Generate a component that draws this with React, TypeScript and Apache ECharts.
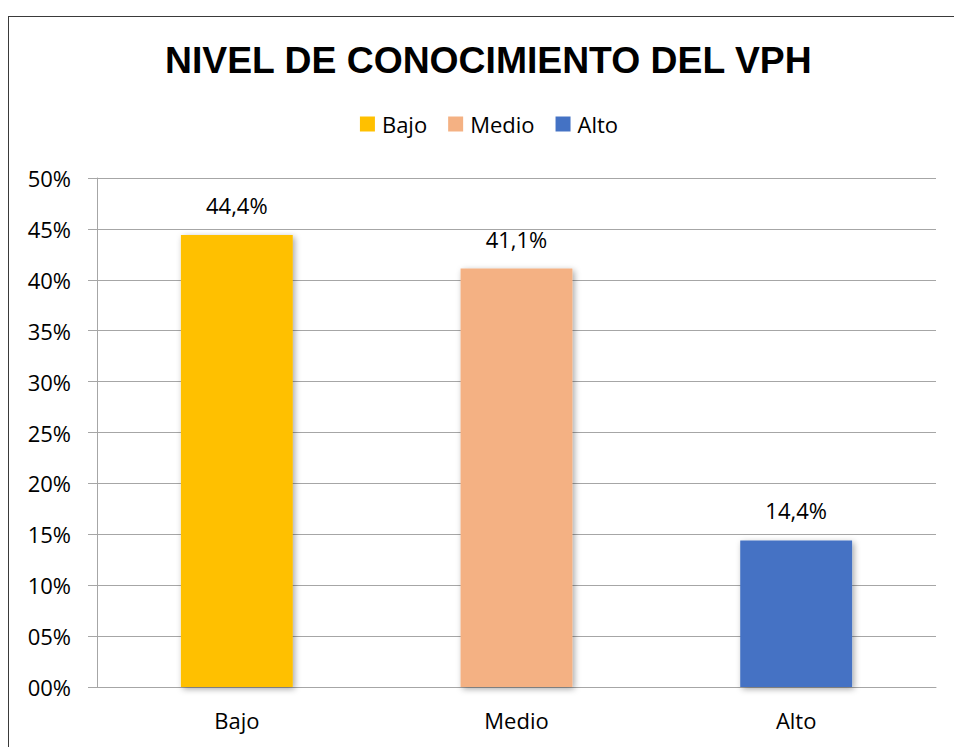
import React, { useEffect, useRef } from "react";
import * as echarts from "echarts";

const categories = ["Bajo", "Medio", "Alto"];
const values = [44.4, 41.1, 14.4];
const yTicks = { min: 0, max: 50, interval: 5 };
const titleText = "NIVEL DE CONOCIMIENTO DEL VPH";

const colors = ["#FFC000", "#F4B183", "#4472C4"];
const FONT = "'Open Sans', 'Noto Sans', sans-serif";

export default function App() {
  const ref = useRef<HTMLDivElement>(null);

  useEffect(() => {
    if (!ref.current) return;
    const chart = echarts.init(ref.current, undefined, { renderer: "svg" });
    const series = categories.map((name, i) => ({
      name,
      type: "bar",
      barWidth: "40%",
      barGap: "-100%",
      data: categories.map((_, j) => (j === i ? values[i] : "-")),
      itemStyle: {
        color: colors[i],
        shadowBlur: 6,
        shadowColor: "rgba(0,0,0,0.35)",
        shadowOffsetX: 2,
        shadowOffsetY: 2,
      },
      label: {
        show: true,
        position: "top",
        distance: 19,
        fontFamily: FONT,
        fontSize: 22,
        color: "#000",
        formatter: (p: any) => p.value.toFixed(1).replace(".", ",") + "%",
      },
    }));
    chart.setOption({
      animation: false,
      backgroundColor: "#fff",
      title: {
        text: titleText,
        left: 151,
        top: 19,
        textStyle: {
          fontFamily: "'Liberation Sans', Arial, sans-serif",
          fontWeight: "bold",
          fontSize: 37.3,
          color: "#000",
        },
      },
      legend: {
        data: categories,
        top: 91,
        left: "center",
        itemWidth: 15,
        itemHeight: 15,
        itemGap: 21,
        icon: "rect",
        textStyle: { fontFamily: FONT, fontSize: 22, color: "#000", padding: [0, 0, 0, 2] },
      },
      grid: { left: 88, right: 33, top: 161, bottom: 90, containLabel: false },
      xAxis: {
        type: "category",
        data: categories,
        axisLine: { lineStyle: { color: "#a6a6a6", width: 1 } },
        axisTick: { show: false },
        axisLabel: { fontFamily: FONT, fontSize: 22, color: "#000", margin: 22 },
      },
      yAxis: {
        type: "value",
        min: yTicks.min,
        max: yTicks.max,
        interval: yTicks.interval,
        axisLine: { show: true, lineStyle: { color: "#a6a6a6", width: 1 } },
        axisTick: { show: true, length: 9, lineStyle: { color: "#a6a6a6" } },
        splitLine: { lineStyle: { color: "#a6a6a6", width: 1 } },
        axisLabel: {
          fontFamily: FONT,
          fontSize: 22,
          color: "#000",
          margin: 26,
          formatter: (v: number) => String(v).padStart(2, "0") + "%",
        },
      },
      series,
    });
    return () => chart.dispose();
  }, []);

  return (
    <div
      style={{
        position: "absolute",
        left: 8,
        top: 16,
        width: 946,
        height: 731,
        overflow: "hidden",
        borderTop: "1px solid #3a3a3a",
        borderLeft: "1px solid #3a3a3a",
        background: "#fff",
      }}
    >
      <div ref={ref} style={{ width: 960, height: 760 }} />
    </div>
  );
}
